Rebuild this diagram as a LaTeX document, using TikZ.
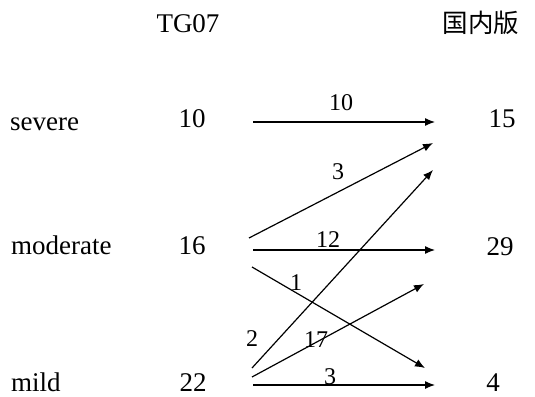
\documentclass[tikz,border=0pt]{standalone}
\usepackage{fontspec}
\setmainfont{Liberation Serif}
\newfontfamily\cjk{Noto Sans CJK SC}
\usetikzlibrary{arrows.meta}
\begin{document}
\begin{tikzpicture}[x=1pt,y=-1pt,
  txt/.style={inner sep=0pt,anchor=base,font=\fontsize{27}{31}\selectfont},
  lbl/.style={inner sep=0pt,anchor=base,font=\fontsize{24}{28}\selectfont},
  arr/.style={line width=1.2pt,-{Latex[length=10pt,width=8pt]}}]
\useasboundingbox (0,0) rectangle (535,396);
% headers
\node[txt] (h1) at (188,33) {TG07};
\node[txt,font=\cjk\fontsize{25.5}{30}\selectfont] (h2) at (481,33) {国内版};
% row labels
\node[txt,anchor=base west] (rs) at (10,130) {severe};
\node[txt,anchor=base west] (rm) at (11,254) {moderate};
\node[txt,anchor=base west] (rl) at (11,391) {mild};
% left counts
\node[txt] (l1) at (192,127) {10};
\node[txt] (l2) at (192,254) {16};
\node[txt] (l3) at (193,391) {22};
% right counts
\node[txt] (r1) at (502,127) {15};
\node[txt] (r2) at (500,255) {29};
\node[txt] (r3) at (493,391) {4};
% arrow endpoints
\coordinate (a1s) at (253,122); \coordinate (a1e) at (435,122);
\coordinate (a2s) at (249,238); \coordinate (a2e) at (433,143);
\coordinate (a3s) at (253,250); \coordinate (a3e) at (435,250);
\coordinate (a4s) at (252,267); \coordinate (a4e) at (425,368);
\coordinate (a5s) at (252,368); \coordinate (a5e) at (433,170);
\coordinate (a6s) at (252,377); \coordinate (a6e) at (424,284);
\coordinate (a7s) at (253,385); \coordinate (a7e) at (435,385);
\draw[arr] (a1s) -- (a1e);
\draw[arr] (a2s) -- (a2e);
\draw[arr] (a3s) -- (a3e);
\draw[arr] (a4s) -- (a4e);
\draw[arr] (a5s) -- (a5e);
\draw[arr] (a6s) -- (a6e);
\draw[arr] (a7s) -- (a7e);
% arrow labels
\node[lbl] (t1) at (341,110) {10};
\node[lbl] (t2) at (338,179) {3};
\node[lbl] (t3) at (328,247) {12};
\node[lbl] (t4) at (296,290) {1};
\node[lbl] (t5) at (252,346) {2};
\node[lbl] (t6) at (316,347) {17};
\node[lbl] (t7) at (330,384) {3};
\end{tikzpicture}
\end{document}
